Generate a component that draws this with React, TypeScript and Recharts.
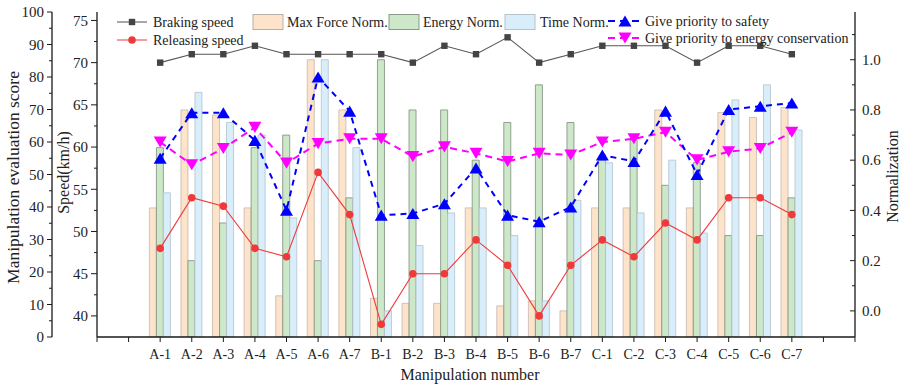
import React from "react";
import { ComposedChart, Bar, Line, XAxis, YAxis } from "recharts";

// manipulation groups
const categories = [
  "A-1", "A-2", "A-3", "A-4", "A-5", "A-6", "A-7",
  "B-1", "B-2", "B-3", "B-4", "B-5", "B-6", "B-7",
  "C-1", "C-2", "C-3", "C-4", "C-5", "C-6", "C-7",
];

// speeds, km/h
const brakingSpeed = [70, 71, 71, 72, 71, 71, 71, 71, 70, 72, 71, 73, 70, 71, 72, 72, 72, 70, 72, 72, 71];
const releasingSpeed = [48, 54, 53, 48, 47, 57, 52, 39, 45, 45, 49, 46, 40, 46, 49, 47, 51, 49, 54, 54, 52];

// normalized indicators
const maxForceNorm = [0.41, 0.8, 0.78, 0.41, 0.06, 1.0, 0.8, 0.05, 0.03, 0.03, 0.41, 0.02, 0.04, 0.0, 0.41, 0.41, 0.8, 0.41, 0.79, 0.77, 0.81];
const energyNorm = [0.65, 0.2, 0.35, 0.65, 0.7, 0.2, 0.45, 1.0, 0.8, 0.8, 0.6, 0.75, 0.9, 0.75, 0.6, 0.68, 0.5, 0.59, 0.3, 0.3, 0.45];
const timeNorm = [0.47, 0.87, 0.75, 0.7, 0.37, 1.0, 0.65, 0.0, 0.26, 0.39, 0.41, 0.3, 0.04, 0.44, 0.59, 0.39, 0.6, 0.31, 0.84, 0.9, 0.72];

// evaluation scores
const safetyScore = [55, 69, 69, 60.5, 39, 80, 69.5, 37.5, 38, 41, 52, 37.5, 35.5, 40, 56, 54, 69.5, 50, 70, 71, 72];
const energyScore = [60, 53, 58, 64.5, 53.5, 59.5, 61, 61, 55.5, 58.5, 56.5, 54, 56.5, 56, 60, 61, 63, 54.5, 57, 58, 63];

// axis ticks
const xTicks = [-2, -1, 0, 1, 2, 3, 4, 5, 6, 7, 8, 9, 10, 11, 12, 13, 14, 15, 16, 17, 18, 19, 20, 21, 22];
const scoreTicks = [0, 5, 10, 15, 20, 25, 30, 35, 40, 45, 50, 55, 60, 65, 70, 75, 80, 85, 90, 95, 100];
const speedTicks = [40, 42.5, 45, 47.5, 50, 52.5, 55, 57.5, 60, 62.5, 65, 67.5, 70, 72.5, 75];
const normTicks = [0, 0.1, 0.2, 0.3, 0.4, 0.5, 0.6, 0.7, 0.8, 0.9, 1.0, 1.1];

const NORM_MIN = -0.104;
const FONT = "'Liberation Serif', 'Times New Roman', serif";
const AXIS = "#1a1a1a";

const rows = categories.map((name, i) => ({
  x: i,
  name,
  braking: brakingSpeed[i],
  releasing: releasingSpeed[i],
  force: maxForceNorm[i],
  energy: energyNorm[i],
  time: timeNorm[i],
  safety: safetyScore[i],
  conserve: energyScore[i],
}));

const UpTri = ({ cx, cy, color, size = 13 }: any) => {
  if (cx == null || cy == null) return null;
  const h = size * 0.85;
  return (
    <polygon
      points={`${cx},${cy - h / 2} ${cx - size / 2},${cy + h / 2} ${cx + size / 2},${cy + h / 2}`}
      fill={color}
    />
  );
};

const DownTri = ({ cx, cy, color, size = 13 }: any) => {
  if (cx == null || cy == null) return null;
  const h = size * 0.85;
  return (
    <polygon
      points={`${cx},${cy + h / 2} ${cx - size / 2},${cy - h / 2} ${cx + size / 2},${cy - h / 2}`}
      fill={color}
    />
  );
};

const Square = ({ cx, cy }: any) =>
  cx == null ? null : <rect x={cx - 3.2} y={cy - 3.2} width={6.4} height={6.4} fill="#444" />;

const ScoreTick = ({ x, y, payload }: any) => {
  const v = payload.value;
  const major = v % 10 === 0;
  return (
    <g>
      <line x1={x} x2={x - (major ? 5 : 3)} y1={y} y2={y} stroke={AXIS} />
      {major && (
        <text x={x - 8} y={y} dy="0.35em" textAnchor="end" fontSize={15} fontFamily={FONT} fill="#222">
          {v}
        </text>
      )}
    </g>
  );
};

const SpeedTick = ({ x, y, payload }: any) => {
  const v = payload.value;
  const major = v % 5 === 0;
  return (
    <g>
      <line x1={x} x2={x - (major ? 6 : 3)} y1={y} y2={y} stroke={AXIS} />
      {major && (
        <text x={x - 9} y={y} dy="0.35em" textAnchor="end" fontSize={15} fontFamily={FONT} fill="#222">
          {v}
        </text>
      )}
    </g>
  );
};

const NormTick = ({ x, y, payload }: any) => {
  const v = payload.value;
  const major = Math.round(v * 10) % 2 === 0;
  return (
    <g>
      <line x1={x} x2={x - (major ? 5 : 3)} y1={y} y2={y} stroke={AXIS} />
      {major && (
        <text x={x + 7} y={y} dy="0.35em" textAnchor="start" fontSize={15} fontFamily={FONT} fill="#222">
          {v.toFixed(1)}
        </text>
      )}
    </g>
  );
};

const XTick = ({ x, y, payload }: any) => {
  const label = categories[payload.value] ?? "";
  return (
    <g>
      <line x1={x} x2={x} y1={y} y2={y + 5} stroke={AXIS} />
      {label && (
        <text x={x} y={y + 22} textAnchor="middle" fontSize={14} fontFamily={FONT} fill="#222">
          {label}
        </text>
      )}
    </g>
  );
};

const sideTitle = (text: string, dx: number, dy: number, size = 16) => (props: any) => {
  const { x, y, height } = props.viewBox;
  const cx = x + dx;
  const cy = y + height / 2 + dy;
  return (
    <text
      x={cx}
      y={cy}
      transform={`rotate(-90 ${cx} ${cy})`}
      textAnchor="middle"
      dominantBaseline="central"
      fontSize={size}
      fontFamily={FONT}
      fill="#222"
    >
      {text}
    </text>
  );
};

const bottomTitle = (props: any) => {
  const { x, y, width } = props.viewBox;
  return (
    <text x={x + width / 2 - 6} y={y + 43} textAnchor="middle" fontSize={16} fontFamily={FONT} fill="#222">
      Manipulation number
    </text>
  );
};

function ChartLegend() {
  const t = { fontSize: 14, fontFamily: FONT, fill: "#222" };
  return (
    <svg width={900} height={60} style={{ position: "absolute", left: 0, top: 0, pointerEvents: "none" }}>
      <line x1={117} x2={147} y1={22} y2={22} stroke="#505050" />
      <Square cx={132} cy={22} />
      <text x={153} y={27} {...t}>Braking speed</text>
      <line x1={117} x2={147} y1={40} y2={40} stroke="#f03a3a" />
      <circle cx={132} cy={40} r={3.8} fill="#f03a3a" />
      <text x={153} y={45} {...t}>Releasing speed</text>

      <rect x={253} y={14.5} width={30} height={15} fill="#fde3ca" stroke="#b8b0a8" />
      <text x={287} y={27} {...t}>Max Force Norm.</text>
      <rect x={389} y={14.5} width={30} height={15} fill="#cce8c8" stroke="#8a9a88" />
      <text x={423} y={27} {...t}>Energy Norm.</text>
      <rect x={505} y={14.5} width={30} height={15} fill="#d8eefb" stroke="#b4c2cc" />
      <text x={540} y={27} {...t}>Time Norm.</text>

      <line x1={608} x2={642} y1={21} y2={21} stroke="#0000ff" strokeWidth={2} strokeDasharray="7 5" />
      <UpTri cx={625} cy={21} color="#0000ff" />
      <text x={645} y={26} {...t}>Give priority to safety</text>
      <line x1={608} x2={642} y1={38} y2={38} stroke="#ff00ff" strokeWidth={2} strokeDasharray="7 5" />
      <DownTri cx={625} cy={38} color="#ff00ff" />
      <text x={645} y={43} {...t}>Give priority to energy conservation</text>
    </svg>
  );
}

export default function App() {
  return (
    <div style={{ position: "absolute", left: 0, top: 0, width: 900, height: 384, background: "#fff" }}>
      <ComposedChart
        width={900}
        height={384}
        data={rows}
        margin={{ top: 12, right: 0, bottom: 0, left: 0 }}
        barGap={0}
      >
        <XAxis
          dataKey="x"
          type="number"
          domain={[-2, 22]}
          ticks={xTicks}
          interval={0}
          height={47}
          tickSize={0}
          tickMargin={0}
          tickLine={false}
          tick={XTick}
          axisLine={{ stroke: AXIS, strokeWidth: 1.3 }}
          label={{ content: bottomTitle }}
        />
        <XAxis
          xAxisId="top"
          orientation="top"
          type="number"
          domain={[-2, 22]}
          height={0}
          tick={false}
          tickLine={false}
          axisLine={{ stroke: AXIS, strokeWidth: 1.3 }}
        />
        <YAxis
          yAxisId="kmh"
          orientation="left"
          width={45}
          domain={[37.5, 76]}
          ticks={speedTicks}
          interval={0}
          allowDataOverflow
          tickSize={0}
          tickMargin={0}
          tickLine={false}
          tick={SpeedTick}
          axisLine={{ stroke: AXIS, strokeWidth: 1.3 }}
          label={{ content: sideTitle("Speed(km/h)", 11, -2) }}
        />
        <YAxis
          yAxisId="score"
          orientation="left"
          width={52}
          domain={[0, 100]}
          ticks={scoreTicks}
          interval={0}
          allowDataOverflow
          tickSize={0}
          tickMargin={0}
          tickLine={false}
          tick={ScoreTick}
          axisLine={{ stroke: AXIS, strokeWidth: 1.3 }}
          label={{ content: sideTitle("Manipulation evaluation score", 13, 3, 17.5) }}
        />
        <YAxis
          yAxisId="norm"
          orientation="right"
          width={45}
          domain={[NORM_MIN, 1.19]}
          ticks={normTicks}
          interval={0}
          allowDataOverflow
          tickSize={0}
          tickMargin={0}
          tickLine={false}
          tick={NormTick}
          axisLine={{ stroke: AXIS, strokeWidth: 1.3 }}
          label={{ content: sideTitle("Normalization", 37, 2) }}
        />

        <Bar yAxisId="norm" dataKey={(d: any) => [NORM_MIN, d.force]} barSize={7} fill="#fde3ca" stroke="#c4b8ac" strokeWidth={0.8} isAnimationActive={false} />
        <Bar yAxisId="norm" dataKey={(d: any) => [NORM_MIN, d.energy]} barSize={7} fill="#cce8c8" stroke="#7f8c7e" strokeWidth={0.8} isAnimationActive={false} />
        <Bar yAxisId="norm" dataKey={(d: any) => [NORM_MIN, d.time]} barSize={7} fill="#d8eefb" stroke="#b4c2cc" strokeWidth={0.8} isAnimationActive={false} />

        <Line yAxisId="kmh" dataKey="braking" stroke="#555" strokeWidth={1.1} dot={<Square />} activeDot={false} isAnimationActive={false} />
        <Line yAxisId="kmh" dataKey="releasing" stroke="#f03a3a" strokeWidth={1.1} dot={{ r: 3.8, fill: "#f03a3a", stroke: "none" }} activeDot={false} isAnimationActive={false} />
        <Line
          yAxisId="score"
          dataKey="conserve"
          stroke="#ff00ff"
          strokeWidth={2}
          strokeDasharray="7 5"
          dot={(p: any) => <DownTri key={`c${p.index}`} cx={p.cx} cy={p.cy} color="#ff00ff" />}
          activeDot={false}
          isAnimationActive={false}
        />
        <Line
          yAxisId="score"
          dataKey="safety"
          stroke="#0000ff"
          strokeWidth={2}
          strokeDasharray="6 5"
          dot={(p: any) => <UpTri key={`s${p.index}`} cx={p.cx} cy={p.cy} color="#0000ff" />}
          activeDot={false}
          isAnimationActive={false}
        />
      </ComposedChart>
      <ChartLegend />
    </div>
  );
}
